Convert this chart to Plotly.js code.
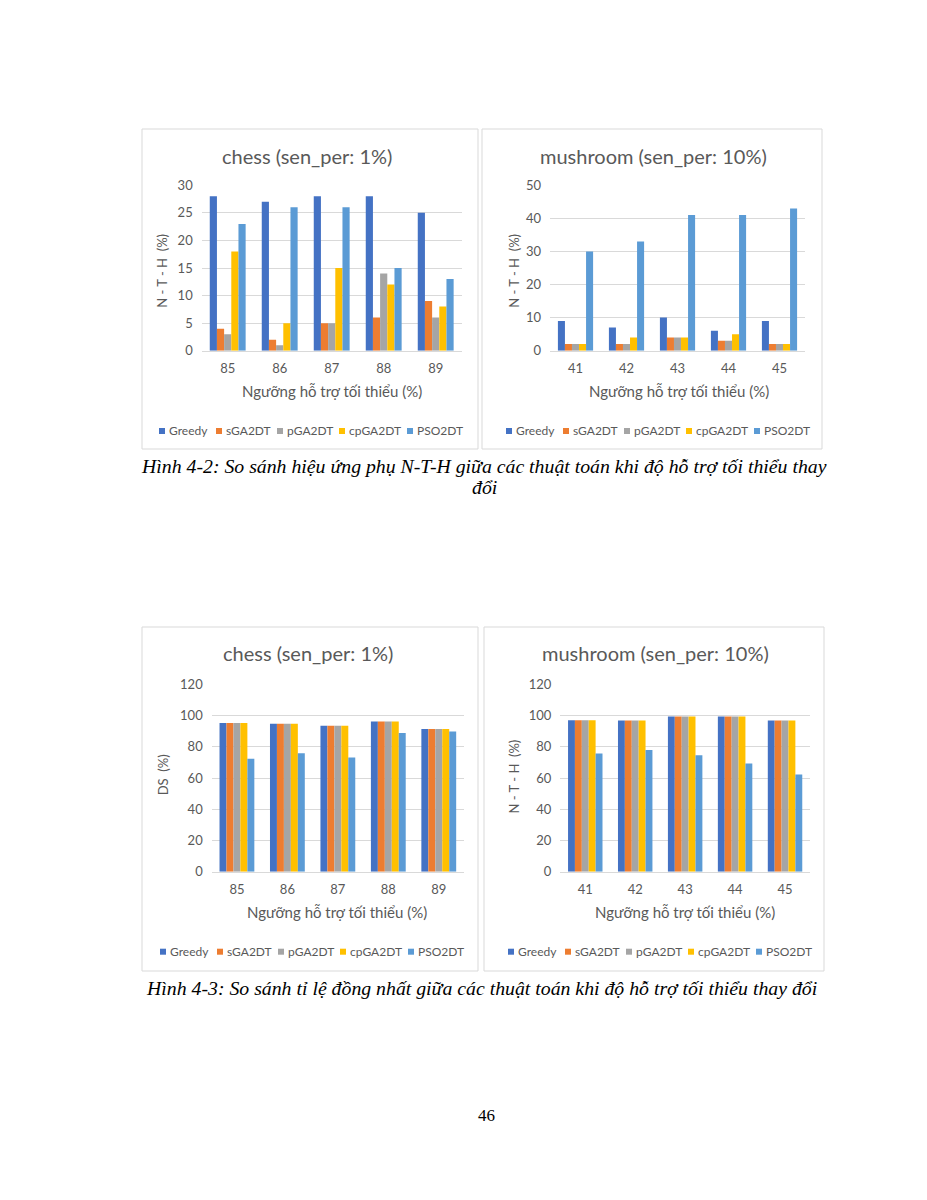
<!DOCTYPE html>
<html>
<head>
<meta charset="utf-8">
<script src="https://cdn.plot.ly/plotly-3.0.1.min.js"></script>
<style>
html,body{margin:0;padding:0;background:#fff;}
#page{width:927px;height:1200px;}
</style>
</head>
<body>
<div id="page"></div>
<script>
// ---------- DATA ----------
const chessSupports = ['85', '86', '87', '88', '89'];
const mushroomSupports = ['41', '42', '43', '44', '45'];
const algorithms = ['Greedy', 'sGA2DT', 'pGA2DT', 'cpGA2DT', 'PSO2DT'];

// Figure 4-2: N-T-H side effect (%)
const nthChessGreedy = [28, 27, 28, 28, 25];
const nthChessSGA = [4, 2, 5, 6, 9];
const nthChessPGA = [3, 1, 5, 14, 6];
const nthChessCPGA = [18, 5, 15, 12, 8];
const nthChessPSO = [23, 26, 26, 15, 13];

const nthMushGreedy = [9, 7, 10, 6, 9];
const nthMushSGA = [2, 2, 4, 3, 2];
const nthMushPGA = [2, 2, 4, 3, 2];
const nthMushCPGA = [2, 4, 4, 5, 2];
const nthMushPSO = [30, 33, 41, 41, 43];

// Figure 4-3: DS similarity (%)
const dsChessGreedy = [95.2, 94.8, 93.5, 96.1, 91.4];
const dsChessSGA = [95.2, 94.8, 93.5, 96.1, 91.4];
const dsChessPGA = [95.2, 94.8, 93.5, 96.1, 91.4];
const dsChessCPGA = [95.2, 94.8, 93.5, 96.1, 91.4];
const dsChessPSO = [72.3, 75.9, 73.1, 88.8, 89.7];

const dsMushGreedy = [97.0, 96.8, 99.4, 99.4, 96.8];
const dsMushSGA = [97.0, 96.8, 99.4, 99.4, 96.8];
const dsMushPGA = [97.0, 96.8, 99.4, 99.4, 96.8];
const dsMushCPGA = [97.0, 96.8, 99.4, 99.4, 96.8];
const dsMushPSO = [75.7, 77.9, 74.5, 69.3, 62.2];

const colors = ['#4472C4', '#ED7D31', '#A5A5A5', '#FFC000', '#5B9BD5'];

// ---------- LAYOUT HELPERS ----------
const W = 927, H = 1200;
const px = x => x / W;
const py = y => 1 - y / H;
const FONT = 'Lato, "Open Sans", sans-serif';
const GREY = '#595959';

const charts = [
  {cats: chessSupports, series: [nthChessGreedy, nthChessSGA, nthChessPGA, nthChessCPGA, nthChessPSO],
   range: [0, 30], dtick: 5, plot: [201.7, 461.7, 185.3, 350.7],
   box: [142, 478, 129, 449], title: 'chess (sen_per: 1%)', titlePos: [307, 156],
   ytitle: 'N - T - H  (%)', ytitlePos: [161.7, 271], xtitlePos: [332, 391], legendStart: 159, legendY: 431},
  {cats: mushroomSupports, series: [nthMushGreedy, nthMushSGA, nthMushPGA, nthMushCPGA, nthMushPSO],
   range: [0, 50], dtick: 10, plot: [550, 805, 185.3, 350.7],
   box: [482, 822, 129, 449], title: 'mushroom (sen_per: 10%)', titlePos: [653, 156],
   ytitle: 'N - T - H  (%)', ytitlePos: [513.7, 271], xtitlePos: [679, 391], legendStart: 506, legendY: 431},
  {cats: chessSupports, series: [dsChessGreedy, dsChessSGA, dsChessPGA, dsChessCPGA, dsChessPSO],
   range: [0, 120], dtick: 20, plot: [211.7, 464, 684.3, 871.7],
   box: [142, 478, 627, 971], title: 'chess (sen_per: 1%)', titlePos: [308, 653],
   ytitle: 'DS  (%)', ytitlePos: [163.3, 775], xtitlePos: [337, 911.7], legendStart: 160, legendY: 951.7},
  {cats: mushroomSupports, series: [dsMushGreedy, dsMushSGA, dsMushPGA, dsMushCPGA, dsMushPSO],
   range: [0, 120], dtick: 20, plot: [560.3, 810, 684.3, 871.7],
   box: [484, 824, 627, 971], title: 'mushroom (sen_per: 10%)', titlePos: [655, 653],
   ytitle: 'N - T - H  (%)', ytitlePos: [513.7, 776.7], xtitlePos: [685, 911.7], legendStart: 508, legendY: 951.7}
];

const legendOffsets = [0, 57, 118, 180, 248];

const data = [];
const layout = {
  width: W, height: H,
  margin: {l: 0, r: 0, t: 0, b: 0},
  paper_bgcolor: '#ffffff', plot_bgcolor: '#ffffff',
  showlegend: false,
  barmode: 'group', bargap: 0.31, bargroupgap: 0,
  font: {family: FONT, color: GREY, size: 12},
  annotations: [], shapes: []
};

charts.forEach((c, i) => {
  const n = i + 1;
  const xa = 'x' + (n === 1 ? '' : n), ya = 'y' + (n === 1 ? '' : n);
  c.series.forEach((vals, s) => {
    data.push({type: 'bar', x: c.cats, y: vals, name: algorithms[s],
      xaxis: xa, yaxis: ya, marker: {color: colors[s], line: {width: 0}},
      hoverinfo: 'x+y+name'});
  });
  layout['xaxis' + (n === 1 ? '' : n)] = {
    domain: [px(c.plot[0]), px(c.plot[1])], anchor: ya, type: 'category',
    showgrid: false, showline: true, linecolor: '#D9D9D9', linewidth: 1,
    ticks: '', ticklabelstandoff: 6, tickfont: {family: FONT, size: 13, color: GREY},
    zeroline: false, fixedrange: true
  };
  layout['yaxis' + (n === 1 ? '' : n)] = {
    domain: [py(c.plot[3]), py(c.plot[2])], anchor: xa, range: c.range, dtick: c.dtick,
    showgrid: true, gridcolor: '#D9D9D9', gridwidth: 1, zeroline: false, showline: false,
    ticks: '', ticklabelstandoff: 8, tickfont: {family: FONT, size: 13, color: GREY}, fixedrange: true
  };
  // chart area border
  layout.shapes.push({type: 'rect', xref: 'paper', yref: 'paper',
    x0: px(c.box[0]), x1: px(c.box[1]), y0: py(c.box[3]), y1: py(c.box[2]),
    line: {color: '#D9D9D9', width: 1}, fillcolor: 'rgba(0,0,0,0)'});
  // title
  layout.annotations.push({xref: 'paper', yref: 'paper', x: px(c.titlePos[0]), y: py(c.titlePos[1]),
    xanchor: 'center', yanchor: 'middle', showarrow: false, text: c.title,
    font: {family: FONT, size: 20, color: GREY}});
  // y title
  layout.annotations.push({xref: 'paper', yref: 'paper', x: px(c.ytitlePos[0]), y: py(c.ytitlePos[1]),
    xanchor: 'center', yanchor: 'middle', showarrow: false, text: c.ytitle, textangle: -90,
    font: {family: FONT, size: 13, color: GREY}});
  // x title
  layout.annotations.push({xref: 'paper', yref: 'paper', x: px(c.xtitlePos[0]), y: py(c.xtitlePos[1]),
    xanchor: 'center', yanchor: 'middle', showarrow: false, text: 'Ngưỡng hỗ trợ tối thiểu (%)',
    font: {family: FONT, size: 15, color: GREY}});
  // legend
  algorithms.forEach((name, s) => {
    const x0 = c.legendStart + legendOffsets[s];
    layout.shapes.push({type: 'rect', xref: 'paper', yref: 'paper',
      x0: px(x0), x1: px(x0 + 6), y0: py(c.legendY + 3), y1: py(c.legendY - 3),
      line: {width: 0}, fillcolor: colors[s]});
    layout.annotations.push({xref: 'paper', yref: 'paper', x: px(x0 + 8), y: py(c.legendY),
      xanchor: 'left', yanchor: 'middle', showarrow: false, text: name,
      font: {family: FONT, size: 12, color: GREY}});
  });
});

// captions
const SERIF = '"Liberation Serif", "Times New Roman", serif';
layout.annotations.push({xref: 'paper', yref: 'paper', x: px(484.5), y: py(466), xanchor: 'center', yanchor: 'middle',
  showarrow: false, text: '<i>Hình 4-2: So sánh hiệu ứng phụ N-T-H giữa các thuật toán khi độ hỗ trợ tối thiểu thay</i>',
  font: {family: SERIF, size: 19.8, color: '#000'}});
layout.annotations.push({xref: 'paper', yref: 'paper', x: px(485), y: py(487), xanchor: 'center', yanchor: 'middle',
  showarrow: false, text: '<i>đổi</i>', font: {family: SERIF, size: 19.8, color: '#000'}});
layout.annotations.push({xref: 'paper', yref: 'paper', x: px(481.5), y: py(988), xanchor: 'center', yanchor: 'middle',
  showarrow: false, text: '<i>Hình 4-3: So sánh tỉ lệ đồng nhất giữa các thuật toán khi độ hỗ trợ tối thiểu thay đổi</i>',
  font: {family: SERIF, size: 19.8, color: '#000'}});
layout.annotations.push({xref: 'paper', yref: 'paper', x: px(486), y: py(1115), xanchor: 'center', yanchor: 'middle',
  showarrow: false, text: '46', font: {family: SERIF, size: 17, color: '#000'}});

Plotly.newPlot('page', data, layout, {staticPlot: true, displayModeBar: false});
</script>
</body>
</html>
